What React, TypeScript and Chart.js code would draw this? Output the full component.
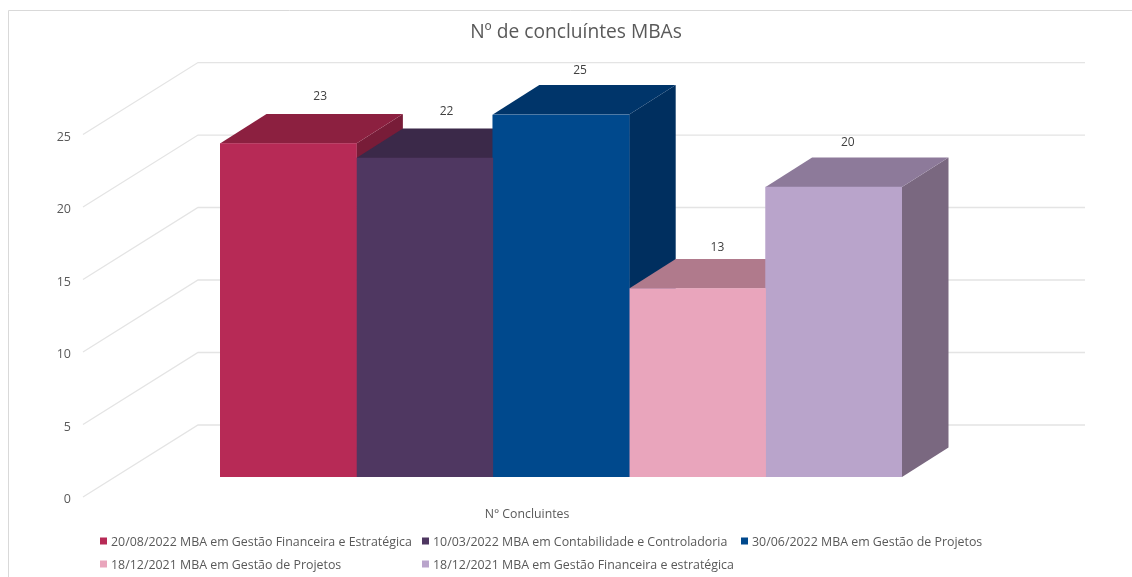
import React, { useEffect, useRef } from "react";
import { Chart, registerables } from "chart.js";

Chart.register(...registerables);

const categories = ["N° Concluintes"];
const chartTitle = "Nº de concluíntes MBAs";
const seriesNames = [
  "20/08/2022 MBA em Gestão Financeira e Estratégica",
  "10/03/2022 MBA em Contabilidade e Controladoria",
  "30/06/2022 MBA em Gestão de Projetos",
  "18/12/2021 MBA em Gestão de Projetos",
  "18/12/2021 MBA em Gestão Financeira e estratégica",
];
const seriesValues = [23, 22, 25, 13, 20];
const frontColors = ["#B72A56", "#4F3761", "#00498D", "#E9A5BC", "#B9A4CB"];
const topColors = ["#8C2040", "#3B2949", "#00356A", "#B07A8C", "#8D7A9A"];
const sideColors = ["#781C38", "#33233F", "#002F5F", "#98697A", "#7A6880"];
const labelNudgeX = [32, 22, 19, 20, 14];
const labelNudgeY = [17.5, 17, 14.5, 11, 15];
const legendX = [100, 422, 741, 100, 422];
const legendY = [541, 541, 541, 564, 564];

const FONT = '"Open Sans", sans-serif';
const DEPTH_X = 46.5;
const DEPTH_Y = 29.5;

const box3d = {
  id: "box3d",
  beforeDraw(chart: any) {
    const { ctx, width, height } = chart;
    const y = chart.scales.y;
    ctx.save();
    ctx.strokeStyle = "#D9D9D9";
    ctx.lineWidth = 1;
    ctx.beginPath();
    ctx.moveTo(8.5, height);
    ctx.lineTo(8.5, 10.5);
    ctx.lineTo(width, 10.5);
    ctx.stroke();
    ctx.strokeStyle = "#E4E4E4";
    ctx.lineWidth = 1.3;
    for (const t of y.ticks) {
      const p = y.getPixelForValue(t.value);
      ctx.beginPath();
      ctx.moveTo(83, p + 20);
      ctx.lineTo(198, p - 52);
      ctx.lineTo(1085, p - 52);
      ctx.stroke();
    }
    ctx.restore();
  },
  beforeDatasetsDraw(chart: any) {
    const { ctx } = chart;
    ctx.save();
    chart.data.datasets.forEach((_: any, i: number) => {
      const el = chart.getDatasetMeta(i).data[0];
      const l = el.x - el.width / 2;
      const r = el.x + el.width / 2;
      const t = el.y;
      const b = el.base;
      ctx.fillStyle = sideColors[i];
      ctx.beginPath();
      ctx.moveTo(r, t);
      ctx.lineTo(r + DEPTH_X, t - DEPTH_Y);
      ctx.lineTo(r + DEPTH_X, b - DEPTH_Y);
      ctx.lineTo(r, b);
      ctx.closePath();
      ctx.fill();
      ctx.fillStyle = topColors[i];
      ctx.beginPath();
      ctx.moveTo(l, t);
      ctx.lineTo(l + DEPTH_X, t - DEPTH_Y);
      ctx.lineTo(r + DEPTH_X, t - DEPTH_Y);
      ctx.lineTo(r, t);
      ctx.closePath();
      ctx.fill();
    });
    ctx.restore();
  },
  afterDraw(chart: any) {
    const { ctx } = chart;
    ctx.save();
    ctx.textBaseline = "middle";
    ctx.font = `12px ${FONT}`;
    ctx.textAlign = "center";
    ctx.fillStyle = "#404040";
    chart.data.datasets.forEach((ds: any, i: number) => {
      const el = chart.getDatasetMeta(i).data[0];
      ctx.fillText(String(ds.data[0]), el.x + labelNudgeX[i], el.y - DEPTH_Y - labelNudgeY[i]);
    });
    ctx.font = `12.4px ${FONT}`;
    ctx.textAlign = "left";
    seriesNames.forEach((name, i) => {
      ctx.fillStyle = frontColors[i];
      ctx.fillRect(legendX[i], legendY[i] - 3.5, 7, 7);
      ctx.fillStyle = "#595959";
      ctx.fillText(name, legendX[i] + 11, legendY[i] + 1);
    });
    ctx.restore();
  },
};

const zeroPadding = (s: any) => {
  s.paddingTop = 0;
  s.paddingBottom = 0;
  s.paddingLeft = 0;
  s.paddingRight = 0;
};

export default function App() {
  const ref = useRef<HTMLCanvasElement>(null);
  useEffect(() => {
    const chart = new Chart(ref.current!, {
      type: "bar",
      plugins: [box3d],
      data: {
        labels: categories,
        datasets: seriesNames.map((name, i) => ({
          label: name,
          data: [seriesValues[i]],
          backgroundColor: frontColors[i],
          barPercentage: 1,
          categoryPercentage: 1,
        })),
      },
      options: {
        responsive: false,
        animation: false,
        layout: { padding: { left: 20, right: 0, top: 0, bottom: 0 } },
        plugins: {
          legend: { display: false },
          tooltip: { enabled: false },
          title: {
            display: true,
            text: chartTitle,
            color: "#595959",
            font: { family: FONT, size: 19.2, weight: "normal" },
            padding: { top: 20.6, bottom: 70.9 },
          },
        },
        scales: {
          x: {
            grid: { display: false },
            border: { display: false },
            afterFit: (s: any) => { s.height = 100; zeroPadding(s); },
            ticks: {
              color: "#595959",
              font: { family: FONT, size: 12.3 },
              padding: 22,
              labelOffset: -34,
              maxRotation: 0,
            },
          },
          y: {
            min: 0,
            max: 25,
            grid: { display: false, drawTicks: false },
            border: { display: false },
            afterFit: (s: any) => { s.width = 200; zeroPadding(s); },
            ticks: {
              stepSize: 5,
              color: "#595959",
              font: { family: FONT, size: 12.5 },
              padding: 149,
              labelOffset: 22.5,
            },
          },
          spacer: {
            type: "linear",
            position: "right",
            display: true,
            grid: { display: false },
            border: { display: false },
            ticks: { display: false },
            afterFit: (s: any) => { s.width = 230; zeroPadding(s); },
          },
        },
      },
    } as any);
    return () => chart.destroy();
  }, []);
  return (
    <div style={{ position: "absolute", left: 0, top: 0, width: 1132, height: 577 }}>
      <canvas ref={ref} width={1132} height={577} style={{ display: "block" }} />
    </div>
  );
}
